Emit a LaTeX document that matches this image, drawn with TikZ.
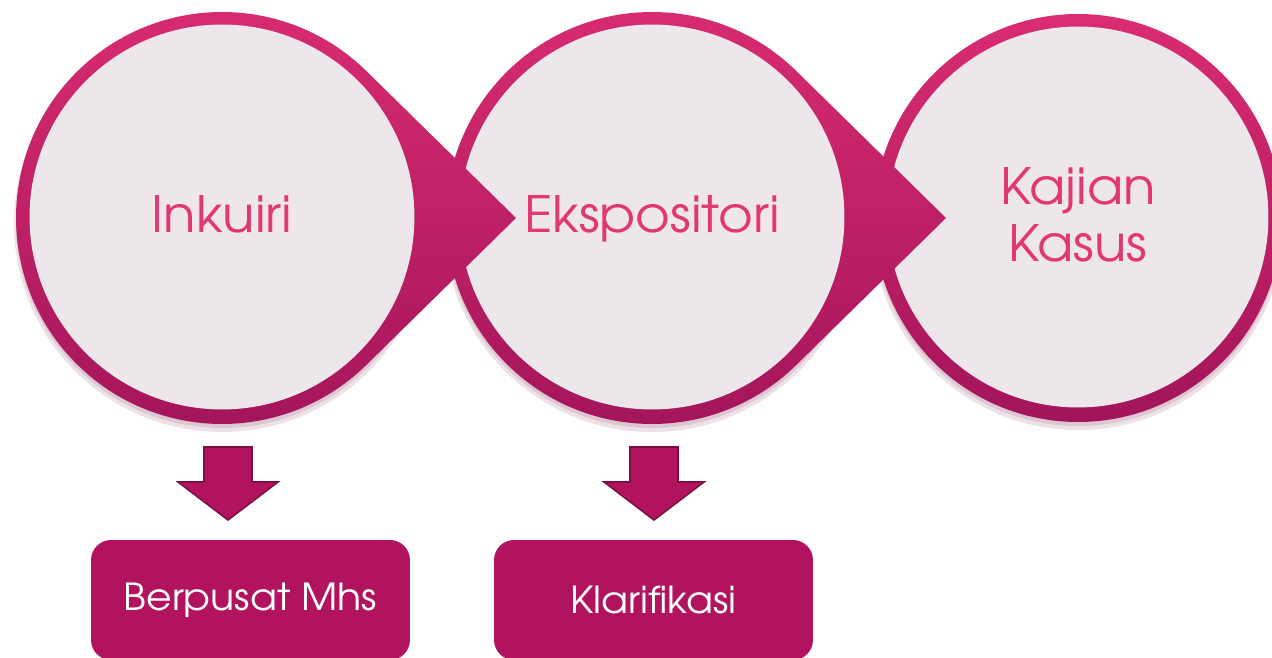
\documentclass[tikz,border=0pt]{standalone}
\usepackage{fontspec}
\setmainfont[FakeStretch=1.06]{TeX Gyre Adventor}
\definecolor{ringtop}{HTML}{DA2C72}
\definecolor{ringmid}{HTML}{D0246A}
\definecolor{ringbot}{HTML}{A2145A}
\definecolor{innerc}{HTML}{EDE6EB}
\definecolor{textpink}{HTML}{E2386F}
\definecolor{boxc}{HTML}{B1135F}
\definecolor{arrowedge}{HTML}{7E0E45}
\definecolor{shadowc}{HTML}{6A0A38}
\begin{document}
\begin{tikzpicture}[x=0.02cm,y=0.02cm]
\useasboundingbox (0,0) rectangle (1272,657);
\clip (0,0) rectangle (1272,657);
\tikzset{
  dropshape/.style={top color=ringtop, middle color=ringmid, bottom color=ringbot},
  softshadow/.style={fill=shadowc, opacity=0.12},
  face/.style={circle, fill=innerc, minimum size=7.7cm, inner sep=0pt},
  facetext/.style={text=textpink, anchor=base, inner sep=0pt, font=\fontsize{28.5}{32}\selectfont},
  box/.style={rounded corners=0.4cm, fill=boxc, text=white, minimum width=6.38cm, minimum height=2.4cm, inner sep=0pt, font=\fontsize{21.2}{25}\selectfont},
  blockarrow/.style={fill=boxc, draw=arrowedge, line width=0.9pt, line join=miter}
}
\newcommand\mytear[3]{%
  \fill[softshadow] (#1,#2-6) circle[radius=208];
  \fill[softshadow] (#1,#2-4) circle[radius=206];
  \path[dropshape] (#1,#2) ++(45.55:206) arc[start angle=45.55, end angle=314.45, radius=206] -- (#1+294,#2) -- cycle;
  \node[face] (#3) at (#1,#2+1) {};
}
\newcommand\myround[3]{%
  \fill[softshadow] (#1,#2-6) circle[radius=206];
  \fill[softshadow] (#1,#2-4) circle[radius=204];
  \path[dropshape] (#1,#2) circle[radius=204];
  \node[face, minimum size=7.62cm] (#3) at (#1,#2+1) {};
}
% circle 3 (bottom layer)
\myround{1078}{439}{c3}
\node[facetext] (t3a) at ([yshift=0.26cm]c3.center) {Kajian};
\node[facetext] (t3b) at ([yshift=-0.9cm]c3.center) {Kasus};
% circle 2
\mytear{652}{439}{c2}
\node[facetext] (t2) at ([yshift=-0.32cm]c2.center) {Ekspositori};
% circle 1 (top layer)
\mytear{222}{439}{c1}
\node[facetext] (t1) at ([yshift=-0.32cm]c1.center) {Inkuiri};
% boxes
\node[box] (b1) at (250.5,57) {Berpusat Mhs};
\node[box] (b2) at (653.5,57) {Klarifikasi};
% down block arrows
\coordinate (a1) at (228,137);
\coordinate (a2) at (654,137);
\path[blockarrow] (a1) -- ++(-50,38) -- ++(26,0) -- ++(0,35) -- ++(48,0) -- ++(0,-35) -- ++(26,0) -- cycle;
\path[blockarrow] (a2) -- ++(-50,38) -- ++(26,0) -- ++(0,35) -- ++(48,0) -- ++(0,-35) -- ++(26,0) -- cycle;
\end{tikzpicture}
\end{document}
